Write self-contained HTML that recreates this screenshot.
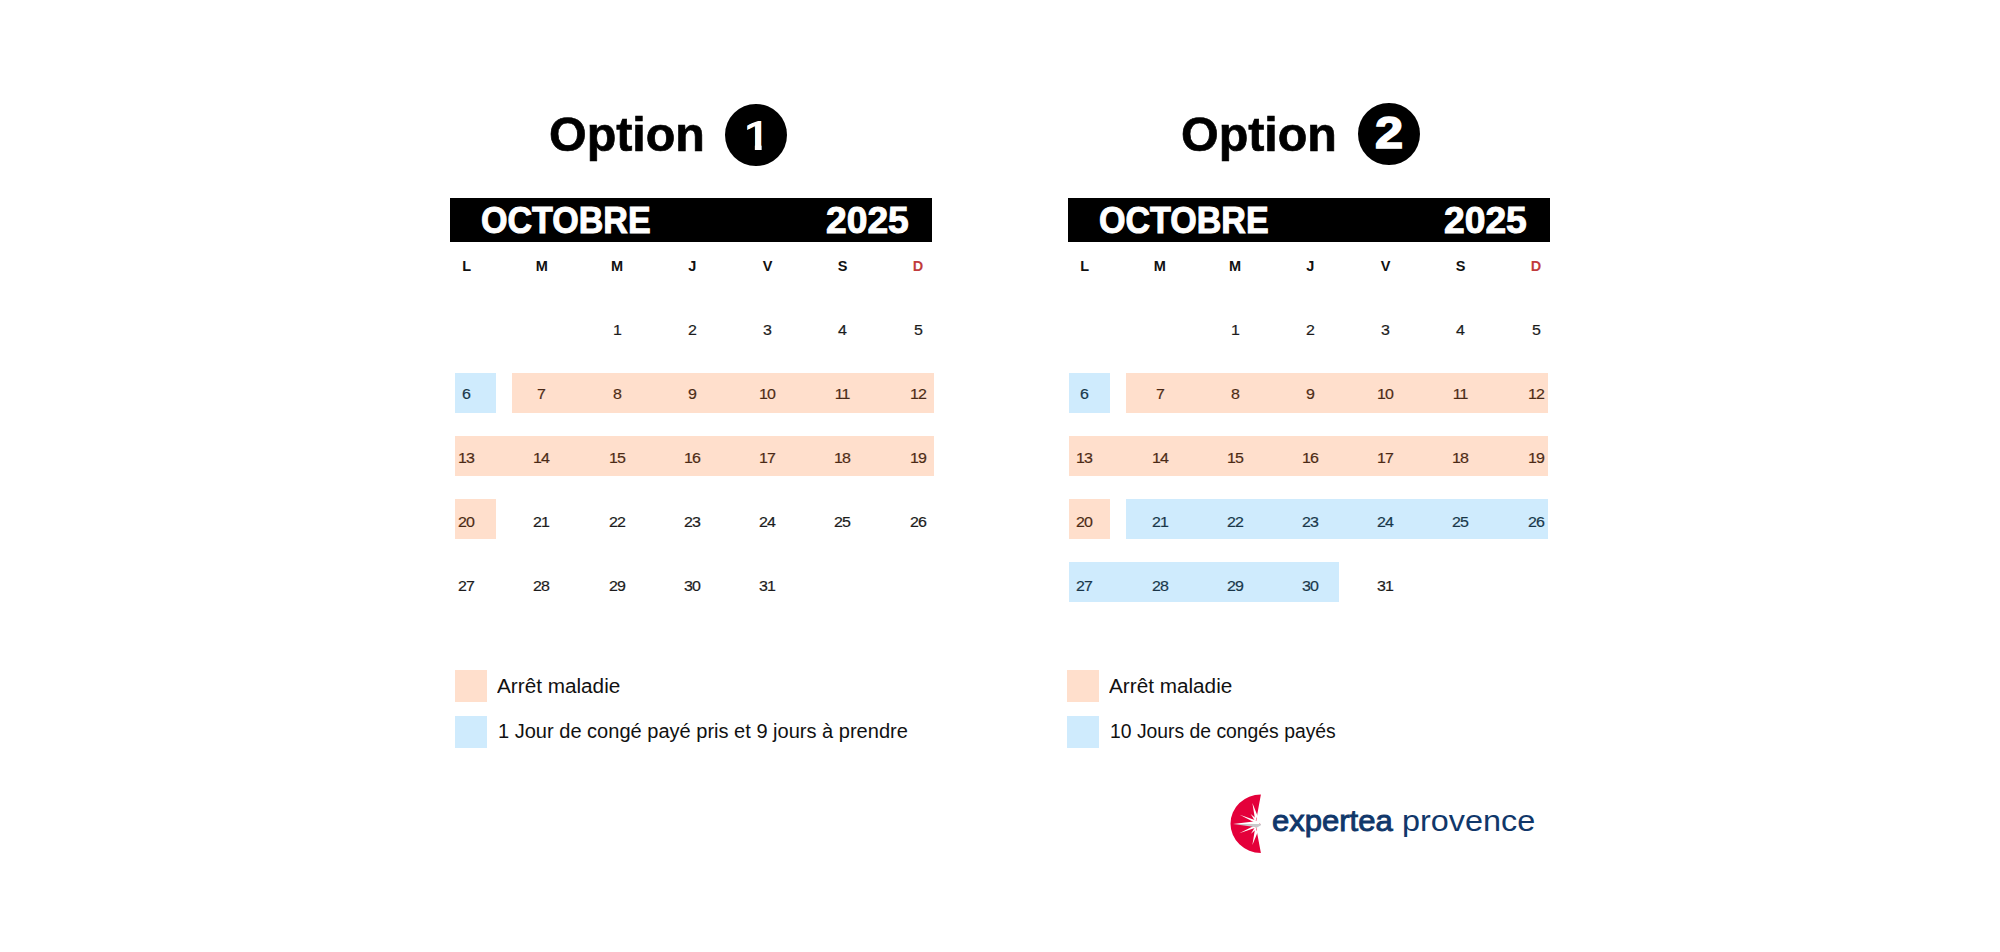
<!DOCTYPE html>
<html lang="fr"><head><meta charset="utf-8"><title>Options congés – Octobre 2025</title>
<style>
html,body{margin:0;padding:0;background:#fff;}
body{width:2000px;height:952px;overflow:hidden;font-family:"Liberation Sans",sans-serif;}
#page{position:relative;width:2000px;height:952px;overflow:hidden;background:#fff;}
.t{position:absolute;white-space:nowrap;line-height:1;transform-origin:left top;}
.opt{font-weight:700;font-size:49px;color:#000;transform:scaleX(0.988);-webkit-text-stroke:0.7px #000;}
.circ{position:absolute;width:61.8px;height:61.8px;border-radius:50%;background:#000;color:#fff;text-align:center;}
.circ span{position:absolute;white-space:nowrap;line-height:1;font-weight:700;transform-origin:left top;}
.cn1{font-size:43px;left:18.4px;top:9.2px;transform:scaleX(1.085);clip-path:polygon(10% 26.85%,68% 14.5%,68% 100%,41.8% 100%,41.8% 32%,10% 38.9%);}
.cn2{font-size:44px;left:17.6px;top:7.8px;transform:scaleX(1.15);-webkit-text-stroke:1.5px #fff;}
.bar{position:absolute;top:198px;width:481.6px;height:43.6px;background:#000;color:#fff;}
.mon{left:30.6px;top:3.5px;font-weight:700;font-size:37px;transform:scaleX(0.9205);-webkit-text-stroke:1px #fff;}
.yr{left:376px;top:3.5px;font-weight:700;font-size:37px;transform:scaleX(1.006);-webkit-text-stroke:1px #fff;}
.wd{position:absolute;top:257.6px;width:60px;text-align:center;font-weight:700;font-size:14.5px;line-height:16px;color:#111;}
.wd.red{color:#c13b3d;}
.d{position:absolute;width:60px;text-align:center;font-size:15.5px;line-height:20px;color:#1c1c1c;letter-spacing:-0.9px;transform:scaleX(1.03);-webkit-text-stroke:0.2px #1c1c1c;}
.bx{position:absolute;height:40px;}
.bx.o,.sw.o{background:rgba(255,95,0,0.2);}
.bx.b,.sw.b{background:rgba(15,155,245,0.2);}
.sw{position:absolute;width:32px;height:32px;}
.lg{font-size:19.6px;color:#111;}
.lg1{transform:scaleX(1.058);}
.lg2a{transform:scaleX(1.0225);}
.lg2b{transform:scaleX(0.987);}
.lgo1{left:1271.6px;top:807.2px;font-size:29px;color:#10376a;transform:scaleX(1.07);-webkit-text-stroke:0.9px #10376a;}
.lgo2{left:1402.2px;top:807.2px;font-size:29px;color:#10376a;transform:scaleX(1.116);}

</style></head><body>
<div id="page">
<div class="t opt" style="left:548.5px;top:109.7px">Option</div>
<div class="circ" style="left:725.4px;top:104.4px"><span class="cn1">1</span></div>
<div class="bar" style="left:450px"><span class="t mon">OCTOBRE</span><span class="t yr">2025</span></div>
<div class="wd" style="left:436.7px">L</div>
<div class="wd" style="left:511.9px">M</div>
<div class="wd" style="left:587.1px">M</div>
<div class="wd" style="left:662.3px">J</div>
<div class="wd" style="left:737.5px">V</div>
<div class="wd" style="left:812.7px">S</div>
<div class="wd red" style="left:887.9px">D</div>
<div class="d" style="left:586.6px;top:319.8px">1</div>
<div class="d" style="left:661.8px;top:319.8px">2</div>
<div class="d" style="left:737.0px;top:319.8px">3</div>
<div class="d" style="left:812.2px;top:319.8px">4</div>
<div class="d" style="left:887.5px;top:319.8px">5</div>
<div class="d" style="left:436.2px;top:383.9px">6</div>
<div class="d" style="left:511.4px;top:383.9px">7</div>
<div class="d" style="left:586.6px;top:383.9px">8</div>
<div class="d" style="left:661.8px;top:383.9px">9</div>
<div class="d" style="left:737.0px;top:383.9px">10</div>
<div class="d" style="left:812.2px;top:383.9px">11</div>
<div class="d" style="left:887.5px;top:383.9px">12</div>
<div class="d" style="left:436.2px;top:448.0px">13</div>
<div class="d" style="left:511.4px;top:448.0px">14</div>
<div class="d" style="left:586.6px;top:448.0px">15</div>
<div class="d" style="left:661.8px;top:448.0px">16</div>
<div class="d" style="left:737.0px;top:448.0px">17</div>
<div class="d" style="left:812.2px;top:448.0px">18</div>
<div class="d" style="left:887.5px;top:448.0px">19</div>
<div class="d" style="left:436.2px;top:512.1px">20</div>
<div class="d" style="left:511.4px;top:512.1px">21</div>
<div class="d" style="left:586.6px;top:512.1px">22</div>
<div class="d" style="left:661.8px;top:512.1px">23</div>
<div class="d" style="left:737.0px;top:512.1px">24</div>
<div class="d" style="left:812.2px;top:512.1px">25</div>
<div class="d" style="left:887.5px;top:512.1px">26</div>
<div class="d" style="left:436.2px;top:576.2px">27</div>
<div class="d" style="left:511.4px;top:576.2px">28</div>
<div class="d" style="left:586.6px;top:576.2px">29</div>
<div class="d" style="left:661.8px;top:576.2px">30</div>
<div class="d" style="left:737.0px;top:576.2px">31</div>
<div class="bx b" style="left:455px;top:372.6px;width:41px"></div>
<div class="bx o" style="left:511.5px;top:372.6px;width:422.5px"></div>
<div class="bx o" style="left:455px;top:435.7px;width:479px"></div>
<div class="bx o" style="left:455px;top:498.8px;width:41px"></div>
<div class="sw o" style="left:455px;top:670px"></div>
<div class="sw b" style="left:455px;top:715.5px"></div>
<div class="t lg lg1" style="left:497.0px;top:677px">Arrêt maladie</div>
<div class="t lg lg2a" style="left:498.3px;top:721.8px">1 Jour de congé payé pris et 9 jours à prendre</div>
<div class="t opt" style="left:1181.0px;top:109.7px">Option</div>
<div class="circ" style="left:1357.9px;top:103.4px"><span class="cn2">2</span></div>
<div class="bar" style="left:1068px"><span class="t mon">OCTOBRE</span><span class="t yr">2025</span></div>
<div class="wd" style="left:1054.7px">L</div>
<div class="wd" style="left:1129.9px">M</div>
<div class="wd" style="left:1205.1px">M</div>
<div class="wd" style="left:1280.3px">J</div>
<div class="wd" style="left:1355.5px">V</div>
<div class="wd" style="left:1430.7px">S</div>
<div class="wd red" style="left:1505.9px">D</div>
<div class="d" style="left:1204.7px;top:319.8px">1</div>
<div class="d" style="left:1279.9px;top:319.8px">2</div>
<div class="d" style="left:1355.0px;top:319.8px">3</div>
<div class="d" style="left:1430.2px;top:319.8px">4</div>
<div class="d" style="left:1505.5px;top:319.8px">5</div>
<div class="d" style="left:1054.2px;top:383.9px">6</div>
<div class="d" style="left:1129.5px;top:383.9px">7</div>
<div class="d" style="left:1204.7px;top:383.9px">8</div>
<div class="d" style="left:1279.9px;top:383.9px">9</div>
<div class="d" style="left:1355.0px;top:383.9px">10</div>
<div class="d" style="left:1430.2px;top:383.9px">11</div>
<div class="d" style="left:1505.5px;top:383.9px">12</div>
<div class="d" style="left:1054.2px;top:448.0px">13</div>
<div class="d" style="left:1129.5px;top:448.0px">14</div>
<div class="d" style="left:1204.7px;top:448.0px">15</div>
<div class="d" style="left:1279.9px;top:448.0px">16</div>
<div class="d" style="left:1355.0px;top:448.0px">17</div>
<div class="d" style="left:1430.2px;top:448.0px">18</div>
<div class="d" style="left:1505.5px;top:448.0px">19</div>
<div class="d" style="left:1054.2px;top:512.1px">20</div>
<div class="d" style="left:1129.5px;top:512.1px">21</div>
<div class="d" style="left:1204.7px;top:512.1px">22</div>
<div class="d" style="left:1279.9px;top:512.1px">23</div>
<div class="d" style="left:1355.0px;top:512.1px">24</div>
<div class="d" style="left:1430.2px;top:512.1px">25</div>
<div class="d" style="left:1505.5px;top:512.1px">26</div>
<div class="d" style="left:1054.2px;top:576.2px">27</div>
<div class="d" style="left:1129.5px;top:576.2px">28</div>
<div class="d" style="left:1204.7px;top:576.2px">29</div>
<div class="d" style="left:1279.9px;top:576.2px">30</div>
<div class="d" style="left:1355.0px;top:576.2px">31</div>
<div class="bx b" style="left:1069px;top:372.6px;width:41px"></div>
<div class="bx o" style="left:1126px;top:372.6px;width:422px"></div>
<div class="bx o" style="left:1069px;top:435.7px;width:479px"></div>
<div class="bx o" style="left:1069px;top:498.8px;width:41px"></div>
<div class="bx b" style="left:1126px;top:498.8px;width:422px"></div>
<div class="bx b" style="left:1069px;top:561.9px;width:270px"></div>
<div class="sw o" style="left:1067px;top:670px"></div>
<div class="sw b" style="left:1067px;top:715.5px"></div>
<div class="t lg lg1" style="left:1109.0px;top:677px">Arrêt maladie</div>
<div class="t lg lg2b" style="left:1110.3px;top:721.8px">10 Jours de congés payés</div>
<svg id="logo" style="position:absolute;left:1220px;top:785px" width="60" height="80" viewBox="0 0 60 80">
<path d="M40.9 9.4 L37.4 28.6 L36.3 36.4 L40.9 39.2 L36.3 42 L37.4 49.6 L40.9 67.9 A30.4 29.25 0 0 1 40.9 9.4 Z" fill="#e4003a"/>
<g fill="#fff">
<polygon points="13,39.1 35.5,36.2 37.5,39.1"/>
<polygon points="19.7,29.8 36.2,35.6 34.6,37.6"/>
<polygon points="32.4,18 37.6,31 35.2,35.5"/>
<polygon points="30.7,29 36.6,34 35,36"/>
<polygon points="19.3,48.3 34.6,40.6 36.2,42.6"/>
<polygon points="32.4,60 35.2,42.8 37.6,47.2"/>
<polygon points="31,48.7 35,42 36.6,44"/>
<circle cx="36.4" cy="39" r="3.2"/>
</g>
<polygon points="13,39 40.9,39 40.9,40.2 37,42.4 33,41.7" fill="#c9c9cb"/>
</svg>
<div class="t lgo1">expertea</div>
<div class="t lgo2">provence</div>

</div>
</body></html>
